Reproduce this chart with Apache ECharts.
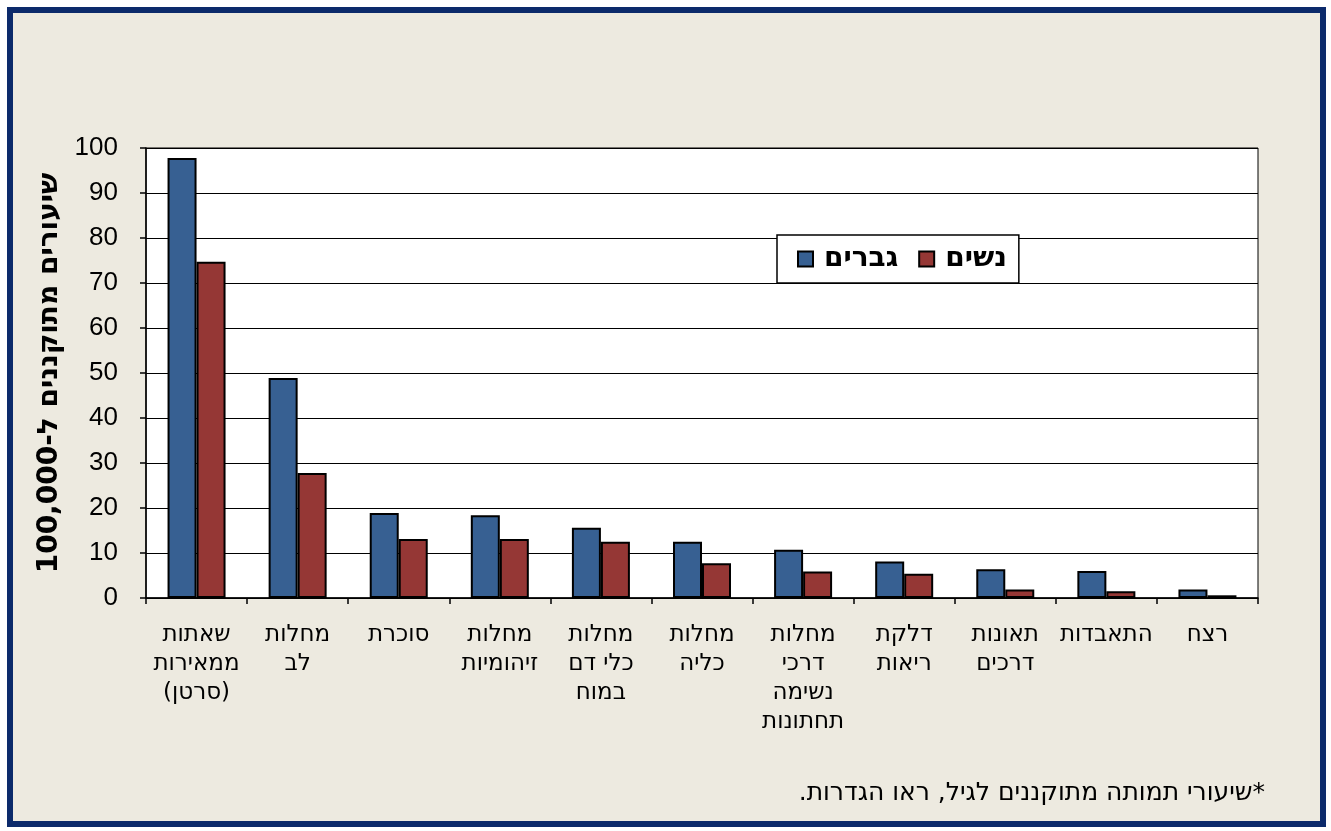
<!DOCTYPE html>
<html>
<head>
<meta charset="utf-8">
<script src="https://cdn.jsdelivr.net/npm/echarts@6/dist/echarts.min.js"></script>
<style>
  html, body { margin: 0; padding: 0; background: #ffffff; }
  #chart { width: 1331px; height: 831px; }
</style>
</head>
<body>
<div id="chart"></div>
<script>
// data (rates per 100,000)
const categories = [
  'שאתות\nממאירות\n(סרטן)',
  'מחלות\nלב',
  'סוכרת',
  'מחלות\nזיהומיות',
  'מחלות\nכלי דם\nבמוח',
  'מחלות\nכליה',
  'מחלות\nדרכי\nנשימה\nתחתונות',
  'דלקת\nריאות',
  'תאונות\nדרכים',
  'התאבדות',
  'רצח'
];
const menValues = [97.8, 48.9, 18.9, 18.4, 15.6, 12.5, 10.7, 8.1, 6.4, 6.0, 1.9];
const womenValues = [74.7, 27.8, 13.1, 13.1, 12.5, 7.7, 5.9, 5.4, 1.9, 1.5, 0.6];
const seriesNames = ['גברים', 'נשים'];
const yTitle = '\u200Fשיעורים מתוקננים ל-100,000\u200F';
const footnote = '\u200F*שיעורי תמותה מתוקננים לגיל, ראו הגדרות.\u200F';

const font = '"Liberation Sans", Arial, sans-serif';
const hebFont = '"DejaVu Sans", sans-serif';
const chart = echarts.init(document.getElementById('chart'), null, { renderer: 'canvas' });

chart.setOption({
  backgroundColor: '#ffffff',
  animation: false,
  graphic: [
    {
      type: 'rect',
      z: -10,
      shape: { x: 10, y: 10, width: 1313, height: 814 },
      style: { fill: '#EDEAE0', stroke: '#0C2A6B', lineWidth: 6 }
    },
    {
      type: 'text',
      x: 1265,
      y: 793,
      style: {
        text: footnote,
        fill: '#000',
        font: '25px ' + hebFont,
        textAlign: 'right',
        textVerticalAlign: 'middle'
      }
    }
  ],
  grid: {
    left: 146,
    right: 73,
    top: 148,
    bottom: 233,
    show: true,
    backgroundColor: '#ffffff',
    borderColor: '#000',
    borderWidth: 1
  },
  legend: {
    data: seriesNames,
    left: 777,
    top: 235,
    orient: 'horizontal',
    icon: 'rect',
    itemWidth: 15,
    itemHeight: 15,
    itemGap: 20,
    padding: [10, 12, 10, 20],
    backgroundColor: '#ffffff',
    borderColor: '#000',
    borderWidth: 1.5,
    textStyle: {
      color: '#000',
      fontSize: 28,
      fontWeight: 'bold',
      fontFamily: hebFont,
      padding: [0, 0, 0, 6]
    }
  },
  xAxis: {
    type: 'category',
    data: categories,
    axisLine: { lineStyle: { color: '#000', width: 1.5 } },
    axisTick: { show: true, length: 6, lineStyle: { color: '#000', width: 1.5 } },
    axisLabel: {
      interval: 0,
      color: '#000',
      fontSize: 23,
      lineHeight: 29,
      margin: 23,
      fontFamily: hebFont
    }
  },
  yAxis: {
    type: 'value',
    min: 0,
    max: 100,
    interval: 10,
    name: yTitle,
    nameLocation: 'middle',
    nameRotate: 90,
    nameGap: 66,
    nameTextStyle: {
      color: '#000',
      fontSize: 28,
      fontWeight: 'bold',
      fontFamily: hebFont
    },
    axisLine: { show: true, lineStyle: { color: '#000', width: 1.5 } },
    axisTick: { show: true, length: 6, lineStyle: { color: '#000', width: 1.5 } },
    axisLabel: { color: '#000', fontSize: 26, margin: 28, fontFamily: font },
    splitLine: { lineStyle: { color: '#000', width: 1 } }
  },
  series: [
    {
      name: seriesNames[0],
      type: 'bar',
      data: menValues,
      barWidth: 29,
      barGap: '0%',
      itemStyle: { color: '#376092', borderColor: '#000', borderWidth: 2 }
    },
    {
      name: seriesNames[1],
      type: 'bar',
      data: womenValues,
      barWidth: 29,
      barGap: '0%',
      itemStyle: { color: '#953735', borderColor: '#000', borderWidth: 2 }
    }
  ]
});
</script>
</body>
</html>
